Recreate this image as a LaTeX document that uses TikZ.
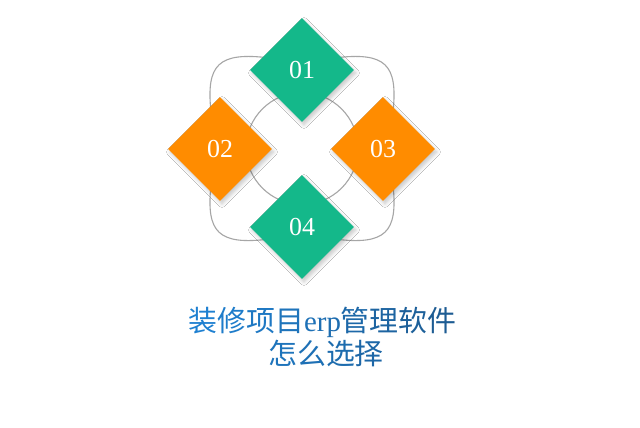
\documentclass[tikz,border=0pt]{standalone}
\usepackage{fontspec}
\setmainfont{Liberation Serif}
\newfontfamily\cjkfont{Noto Sans CJK SC}
\usetikzlibrary{shapes.geometric,calc,shadows.blur}
\definecolor{dgreen}{HTML}{14B88A}
\definecolor{dorange}{HTML}{FF8C00}
\definecolor{tlight}{HTML}{1E82D4}
\definecolor{tdark}{HTML}{1D5A90}
\definecolor{loopgray}{HTML}{A6A6A6}
\newcommand\gradch[2]{\textcolor{tdark!#1!tlight}{#2}}
\begin{document}
\begin{tikzpicture}[x=1bp,y=-1bp,
  tile/.style={shape=diamond, minimum width=104bp, minimum height=104bp, inner sep=0pt,
    text=white, font=\fontsize{26}{26}\selectfont,
    blur shadow={shadow xshift=2bp, shadow yshift=-3bp, shadow opacity=22, shadow blur steps=8, shadow blur radius=3.5bp}},
  greentile/.style={tile, fill=dgreen},
  orangetile/.style={tile, fill=dorange},
  loopline/.style={draw=loopgray, line width=1.1bp},
  titletext/.style={font=\cjkfont\fontsize{29}{29}\selectfont, inner sep=0pt, anchor=base}]
\useasboundingbox (0,0) rectangle (640,427);
\fill[white] (0,0) rectangle (640,427);
\coordinate (C) at (302,148.5);
\draw[loopline] (C) circle[radius=56];
\draw[loopline] ($(C)+(-32,-90.5)$) .. controls ($(C)+(-84,-97)$) and ($(C)+(-96,-84)$) .. ($(C)+(-91,-36.5)$);
\draw[loopline] ($(C)+(32,-90.5)$) .. controls ($(C)+(84,-97)$) and ($(C)+(96,-84)$) .. ($(C)+(91,-36.5)$);
\draw[loopline] ($(C)+(-32,90.5)$) .. controls ($(C)+(-84,97)$) and ($(C)+(-96,84)$) .. ($(C)+(-91,36.5)$);
\draw[loopline] ($(C)+(32,90.5)$) .. controls ($(C)+(84,97)$) and ($(C)+(96,84)$) .. ($(C)+(91,36.5)$);
\node[greentile] (d1) at (302,70) {01};
\node[orangetile] (d2) at (220,149) {02};
\node[orangetile] (d3) at (383,149) {03};
\node[greentile] (d4) at (302,227) {04};
\node[titletext] (t1) at (322.5,331) {\gradch{5}{装}\gradch{15}{修}\gradch{25}{项}\gradch{36}{目}{\rmfamily\gradch{43}{e}\gradch{48}{r}\gradch{53}{p}}\gradch{65}{管}\gradch{75}{理}\gradch{85}{软}\gradch{95}{件}};
\node[titletext] (t2) at (326,364) {\gradch{36}{怎}\gradch{46}{么}\gradch{56}{选}\gradch{67}{择}};
\end{tikzpicture}
\end{document}
